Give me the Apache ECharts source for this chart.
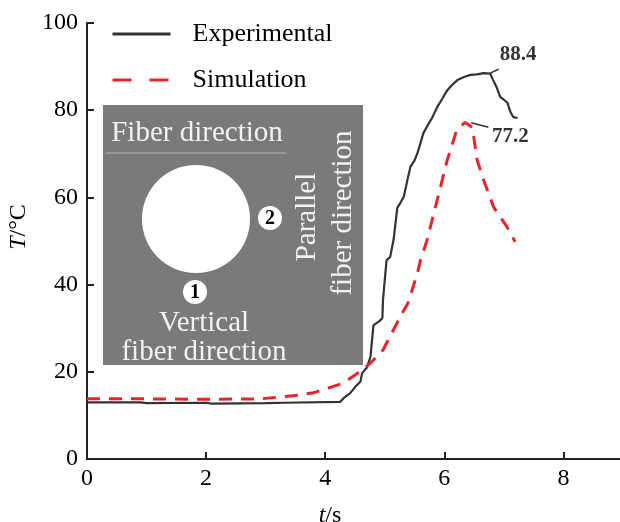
<!DOCTYPE html>
<html>
<head>
<meta charset="utf-8">
<script src="https://cdn.jsdelivr.net/npm/echarts@6/dist/echarts.min.js"></script>
<style>html,body{margin:0;padding:0;background:#fff;}#c{width:620px;height:522px;}</style>
</head>
<body>
<div id="c"></div>
<script>
// Experimental (t in s, T in °C)
var expT = [0, 0.9, 1.0, 2.0, 2.1, 3.0, 3.3, 4.25, 4.33, 4.42, 4.5, 4.59, 4.62, 4.7, 4.76, 4.81, 4.9, 4.96, 4.97, 5.03, 5.09, 5.15, 5.21, 5.26, 5.32, 5.38, 5.43, 5.5, 5.55, 5.65, 5.72, 5.80, 5.88, 5.96, 6.05, 6.13, 6.22, 6.33, 6.44, 6.55, 6.66, 6.77, 6.82, 6.88, 6.94, 7.0, 7.06, 7.11, 7.16, 7.23];
var expV = [13.0, 13.0, 12.8, 12.9, 12.7, 12.8, 12.9, 13.1, 14.2, 15.1, 16.5, 17.7, 19.7, 21.0, 23.4, 30.7, 31.5, 32.3, 36.5, 45.6, 46.3, 50.5, 57.6, 58.7, 60.2, 64.0, 67.0, 68.5, 70.2, 74.8, 76.5, 78.4, 80.7, 82.5, 84.6, 85.8, 86.9, 87.6, 88.1, 88.2, 88.5, 88.4, 86.9, 85.2, 83.0, 82.4, 81.7, 79.6, 78.4, 78.2];
// Simulation
var simT = [0, 1.0, 2.0, 2.92, 3.45, 3.58, 3.80, 3.85, 4.30, 4.55, 4.76, 4.97, 5.26, 5.39, 5.55, 5.60, 5.71, 5.88, 6.05, 6.21, 6.35, 6.47, 6.55, 6.66, 6.83, 7.05, 7.19];
var simV = [13.8, 13.8, 13.7, 13.8, 14.5, 14.7, 15.2, 15.4, 17.4, 19.7, 22.0, 25.0, 32.6, 35.8, 42.7, 45.6, 50.2, 59.4, 68.6, 75.5, 77.2, 76.1, 68.6, 64.0, 57.7, 53.3, 49.8];
// Peak annotations
var peakLabels = ['88.4', '77.2'];
var peakPoints = [[6.77, 88.5], [6.45, 77.1]];
var leaderEnds = [[6.91, 89.4], [6.74, 76.1]];
var labelPos = [[6.94, 92.7], [6.81, 73.9]];
var xTicks = [0, 2, 4, 6, 8];
var yTicks = [0, 20, 40, 60, 80, 100];

function zip(a, b) { return a.map(function (v, i) { return [v, b[i]]; }); }

var serif = 'Liberation Serif';
var inset = '#f2f2f2';
var chart = echarts.init(document.getElementById('c'));
chart.setOption({
  animation: false,
  grid: { left: 87, right: -3, top: 23, bottom: 63, containLabel: false, outerBoundsMode: 'none' },
  legend: {
    left: 106, top: 16, orient: 'vertical', itemWidth: 58, itemHeight: 14, itemGap: 20,
    textStyle: { fontFamily: serif, fontSize: 26, color: '#000', padding: [0, 0, 0, 17] },
    data: [
      { name: 'Experimental', itemStyle: { opacity: 0 }, lineStyle: { color: '#333', width: 3, type: 'solid' } },
      { name: 'Simulation', itemStyle: { opacity: 0 }, lineStyle: { color: '#e8242a', width: 3, type: [19, 18] } }
    ]
  },
  xAxis: {
    type: 'value', min: 0, max: 9, interval: 2,
    name: '{i|t}/s', nameLocation: 'middle', nameGap: 45,
    nameTextStyle: { fontFamily: serif, fontSize: 24, color: '#000', padding: [0, 50, 0, 0],
      rich: { i: { fontStyle: 'italic', fontFamily: serif, fontSize: 24 } } },
    axisLine: { show: true, lineStyle: { color: '#222', width: 2 } },
    axisTick: { show: true, inside: true, length: 7, lineStyle: { color: '#222', width: 2 } },
    axisLabel: { fontFamily: serif, fontSize: 24, color: '#000', margin: 8,
      formatter: function (v) { return xTicks.indexOf(v) >= 0 ? String(v) : ''; } },
    splitLine: { show: false }
  },
  yAxis: {
    type: 'value', min: 0, max: 100, interval: 20,
    name: '{i|T}/°C', nameLocation: 'middle', nameGap: 55, nameRotate: 90,
    nameTextStyle: { fontFamily: serif, fontSize: 24, color: '#000', padding: [0, 0, 0, 28],
      rich: { i: { fontStyle: 'italic', fontFamily: serif, fontSize: 24 } } },
    axisLine: { show: true, lineStyle: { color: '#222', width: 2 } },
    axisTick: { show: true, inside: true, length: 7, lineStyle: { color: '#222', width: 2 } },
    axisLabel: { fontFamily: serif, fontSize: 24, color: '#000', margin: 9,
      formatter: function (v) { return yTicks.indexOf(v) >= 0 ? String(v) : ''; } },
    splitLine: { show: false }
  },
  graphic: [
    { type: 'rect', z: 1, shape: { x: 103, y: 105, width: 260, height: 260 }, style: { fill: '#7a7a7a' } },
    { type: 'text', z: 2, x: 197, y: 133, style: { text: 'Fiber direction', fontFamily: serif, fontSize: 29, fill: inset, align: 'center', verticalAlign: 'middle' } },
    { type: 'line', z: 2, shape: { x1: 106, y1: 153, x2: 286, y2: 153 }, style: { stroke: '#b8b8b8', lineWidth: 1 } },
    { type: 'circle', z: 2, shape: { cx: 196, cy: 219, r: 54 }, style: { fill: '#fff' } },
    { type: 'circle', z: 2, shape: { cx: 270, cy: 218, r: 12 }, style: { fill: '#fff' } },
    { type: 'text', z: 3, x: 270, y: 219, style: { text: '2', fontFamily: serif, fontWeight: 'bold', fontSize: 20, fill: '#000', align: 'center', verticalAlign: 'middle' } },
    { type: 'circle', z: 2, shape: { cx: 195, cy: 292, r: 12 }, style: { fill: '#fff' } },
    { type: 'text', z: 3, x: 195, y: 293, style: { text: '1', fontFamily: serif, fontWeight: 'bold', fontSize: 20, fill: '#000', align: 'center', verticalAlign: 'middle' } },
    { type: 'text', z: 2, x: 204, y: 323, style: { text: 'Vertical', fontFamily: serif, fontSize: 29, fill: inset, align: 'center', verticalAlign: 'middle' } },
    { type: 'text', z: 2, x: 204, y: 352, style: { text: 'fiber direction', fontFamily: serif, fontSize: 29, fill: inset, align: 'center', verticalAlign: 'middle' } },
    { type: 'text', z: 2, x: 307, y: 217, rotation: Math.PI / 2, style: { text: 'Parallel', fontFamily: serif, fontSize: 29, fill: inset, align: 'center', verticalAlign: 'middle' } },
    { type: 'text', z: 2, x: 343, y: 213, rotation: Math.PI / 2, style: { text: 'fiber direction', fontFamily: serif, fontSize: 29, fill: inset, align: 'center', verticalAlign: 'middle' } }
  ],
  series: [
    {
      name: 'Experimental', type: 'line', z: 5, data: zip(expT, expV), showSymbol: false, symbol: 'none',
      lineStyle: { color: '#333', width: 2.2 }, itemStyle: { color: '#333' },
      markLine: { silent: true, symbol: 'none', label: { show: false }, lineStyle: { color: '#333', width: 1.5, type: 'solid' },
        data: [[{ coord: peakPoints[0] }, { coord: leaderEnds[0] }]] }
    },
    {
      name: 'Simulation', type: 'line', z: 5, data: zip(simT, simV), showSymbol: false, symbol: 'none',
      lineStyle: { color: '#e8242a', width: 3, type: [13, 9] }, itemStyle: { color: '#e8242a' },
      markLine: { silent: true, symbol: 'none', label: { show: false }, lineStyle: { color: '#333', width: 1.5, type: 'solid' },
        data: [[{ coord: peakPoints[1] }, { coord: leaderEnds[1] }]] }
    },
    {
      name: 'labels', type: 'scatter', z: 6, symbolSize: 1, itemStyle: { color: 'rgba(0,0,0,0)' },
      data: labelPos.map(function (p, i) { return { value: p, name: peakLabels[i] }; }),
      label: { show: true, position: [0, 0], align: 'left', verticalAlign: 'middle', formatter: '{b}',
        fontFamily: serif, fontWeight: 'bold', fontSize: 21, color: '#000' }
    }
  ]
});
</script>
</body>
</html>
